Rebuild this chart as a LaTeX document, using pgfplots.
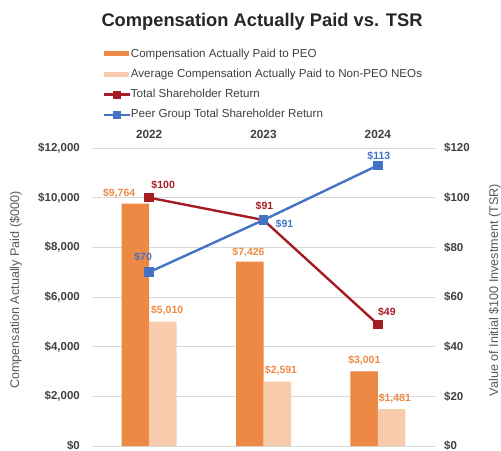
\documentclass[border=0pt]{standalone}
\usepackage{pgfplots}
\pgfplotsset{compat=1.18}
\usepackage{fontspec}
\setmainfont{Liberation Sans}
\definecolor{peo}{RGB}{237,137,69}
\definecolor{neo}{RGB}{248,203,173}
\definecolor{tsr}{RGB}{166,28,36}
\definecolor{peer}{RGB}{68,114,196}
\definecolor{txt}{RGB}{89,89,89}
\definecolor{tickc}{RGB}{64,64,64}
\definecolor{gridc}{RGB}{217,217,217}
\definecolor{titlec}{RGB}{38,38,38}

\pgfplotstableread{
x y dx dy
0 9764 -30 10
1 7426 -15 9
2 3001 -13.5 11
}\peotab
\pgfplotstableread{
x y dx dy
0 5010 18 11.5
1 2591 17.5 11.5
2 1481 17 10.5
}\neotab
\pgfplotstableread{
x y dx dy
0 100 14 13
1 91 1 14
2 49 9 12
}\tsrtab
\pgfplotstableread{
x y dx dy
0 70 -6 15
1 91 21 -4
2 113 1 9
}\peertab

\begin{document}
\begin{tikzpicture}
\useasboundingbox (0,0) rectangle (501bp,451bp);
\pgfplotsset{
  base/.style={
    at={(92bp,5bp)}, anchor=south west, scale only axis,
    width=343bp, height=298bp,
    xmin=-0.5, xmax=2.5,
    axis line style={draw=none}, major tick length=0pt,
    scaled y ticks=false,
    /pgf/number format/assume math mode=true,
    /pgf/number format/1000 sep={,},
    clip=false,
  },
  lbl/.style={
    nodes near coords={\$\pgfmathprintnumber{\pgfplotspointmeta}},
    visualization depends on={\thisrow{dx} \as \dx},
    visualization depends on={\thisrow{dy} \as \dy},
    every node near coord/.append style={
      font=\fontsize{10.5bp}{12bp}\selectfont\bfseries,
      anchor=center, inner sep=0pt, xshift=\dx bp, yshift=\dy bp, text=#1},
  },
}
\begin{axis}[base,
  ymin=0, ymax=12000, ytick={0,2000,...,12000},
  ymajorgrids, grid style={gridc, line width=0.8bp},
  xtick={0,1,2}, xticklabels={2022,2023,2024}, xticklabel pos=upper,
  xticklabel style={font=\fontsize{11.8bp}{13bp}\selectfont\bfseries, text=tickc,
    anchor=south, inner sep=0pt, yshift=9.5bp},
  yticklabel={\$\pgfmathprintnumber{\tick}},
  yticklabel style={font=\fontsize{11.5bp}{13bp}\selectfont\bfseries, text=tickc,
    anchor=east, inner sep=0pt, xshift=-12bp},
  ylabel={Compensation Actually Paid (\$000)},
  every axis y label/.style={at={(axis description cs:-0.222,0.523)}, anchor=center,
    rotate=90, font=\fontsize{12.6bp}{14bp}\selectfont, text=txt},
  legend style={at={(axis description cs:0.030,1.336)}, anchor=north west,
    draw=none, fill=none, inner sep=0pt, row sep=8.8bp, column sep=0bp,
    font=\fontsize{11.6bp}{13bp}\selectfont, text=tickc,
    nodes={inner sep=0pt, text height=9bp, text depth=2.5bp}},
  legend cell align=left,
]
\addplot[ybar, bar width=27.5bp, bar shift=-13.75bp, fill=peo, draw=none, lbl=peo,
  legend image code/.code={\fill[peo] (0bp,-2.5bp) rectangle (25bp,2.5bp);}]
  table[x=x, y=y] {\peotab};
\addlegendentry{Compensation Actually Paid to PEO}
\addplot[ybar, bar width=27.5bp, bar shift=13.75bp, fill=neo, draw=none, lbl=peo,
  legend image code/.code={\fill[neo] (0bp,-2.5bp) rectangle (25bp,2.5bp);}]
  table[x=x, y=y] {\neotab};
\addlegendentry{Average Compensation Actually Paid to Non-PEO NEOs}
\addlegendimage{legend image code/.code={\draw[tsr, line width=2.4bp] (0bp,0bp) -- (26bp,0bp); \fill[tsr] (9.5bp,-3.5bp) rectangle (16.5bp,3.5bp);}}
\addlegendentry{Total Shareholder Return}
\addlegendimage{legend image code/.code={\draw[peer, line width=2.4bp] (0bp,0bp) -- (26bp,0bp); \fill[peer] (9.5bp,-3.5bp) rectangle (16.5bp,3.5bp);}}
\addlegendentry{Peer Group Total Shareholder Return}
\end{axis}
\begin{axis}[base,
  ymin=0, ymax=120, ytick={0,20,...,120},
  xtick=\empty, yticklabel pos=right,
  yticklabel={\$\pgfmathprintnumber{\tick}},
  yticklabel style={font=\fontsize{11.5bp}{13bp}\selectfont\bfseries, text=tickc,
    anchor=west, inner sep=0pt, xshift=9bp},
  ylabel={Value of Initial \$100 Investment (TSR)},
  every axis y label/.style={at={(axis description cs:1.174,0.523)}, anchor=center,
    rotate=90, font=\fontsize{12.6bp}{14bp}\selectfont, text=txt},
]
\addplot[tsr, line width=2.4bp, mark=square*, mark size=3.6bp, mark options={solid}, lbl=tsr]
  table[x=x, y=y] {\tsrtab};
\addplot[peer, line width=2.4bp, mark=square*, mark size=3.6bp, mark options={solid}, lbl=peer]
  table[x=x, y=y] {\peertab};
\end{axis}
\node[font=\fontsize{18.3bp}{20bp}\selectfont\bfseries, text=titlec] at (262bp,429bp)
  {Compensation Actually Paid vs. TSR};
\end{tikzpicture}
\end{document}
